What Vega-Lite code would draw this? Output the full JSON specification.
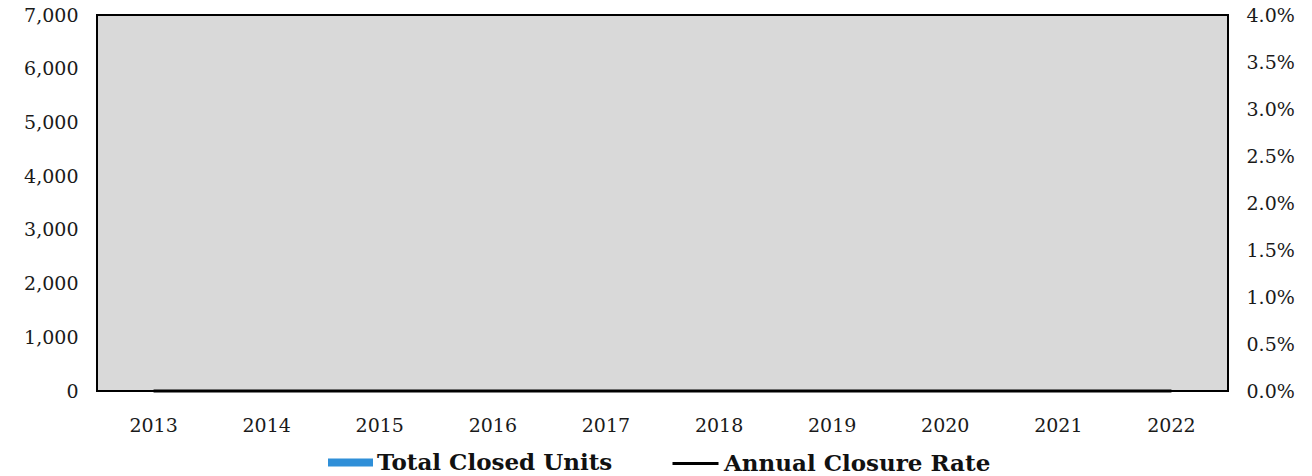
{
  "$schema": "https://vega.github.io/schema/vega-lite/v6.json",
  "width": 1131,
  "height": 376,
  "autosize": "none",
  "padding": {"left": 97, "top": 15, "right": 84, "bottom": 85},
  "background": "white",
  "config": {
    "view": {"fill": "#d9d9d9", "stroke": "#000000", "strokeWidth": 2},
    "font": "DejaVu Serif",
    "axis": {"labelFont": "DejaVu Serif", "labelFontSize": 19, "labelColor": "#1a1a1a", "grid": false, "ticks": false, "domain": false, "title": null}
  },
  "data": {
    "values": [
      {"year": "2013", "units": 0, "rate": 0},
      {"year": "2014", "units": 0, "rate": 0},
      {"year": "2015", "units": 0, "rate": 0},
      {"year": "2016", "units": 0, "rate": 0},
      {"year": "2017", "units": 0, "rate": 0},
      {"year": "2018", "units": 0, "rate": 0},
      {"year": "2019", "units": 0, "rate": 0},
      {"year": "2020", "units": 0, "rate": 0},
      {"year": "2021", "units": 0, "rate": 0},
      {"year": "2022", "units": 0, "rate": 0}
    ]
  },
  "encoding": {
    "x": {"field": "year", "type": "ordinal", "axis": {"labelAngle": 0, "labelPadding": 25}}
  },
  "layer": [
    {
      "mark": {"type": "bar", "width": {"band": 0.6}},
      "encoding": {
        "y": {"field": "units", "type": "quantitative", "scale": {"domain": [0, 7000], "nice": false}, "axis": {"values": [0, 1000, 2000, 3000, 4000, 5000, 6000, 7000], "format": ",.0f", "labelPadding": 19}},
        "fill": {"datum": "Total Closed Units", "type": "nominal", "scale": {"range": ["#2f8fd8"]}, "legend": {"title": null, "orient": "none", "legendX": 231, "legendY": 425, "symbolType": "M-1,-0.18H1V0.18H-1Z", "symbolSize": 2025, "symbolStrokeWidth": 0, "labelFont": "DejaVu Serif", "labelFontSize": 23, "labelFontWeight": "bold", "labelColor": "#111111", "labelOffset": 4, "labelLimit": 0}}
      }
    },
    {
      "mark": {"type": "line", "strokeWidth": 3},
      "encoding": {
        "y": {"field": "rate", "type": "quantitative", "scale": {"domain": [0, 0.04], "nice": false}, "axis": {"orient": "right", "values": [0, 0.005, 0.01, 0.015, 0.02, 0.025, 0.03, 0.035, 0.04], "format": ".1%", "labelPadding": 18}},
        "stroke": {"datum": "Annual Closure Rate", "type": "nominal", "scale": {"range": ["#000000"]}, "legend": {"title": null, "orient": "none", "legendX": 574, "legendY": 424, "symbolType": "stroke", "symbolSize": 2116, "symbolStrokeWidth": 3, "labelFont": "DejaVu Serif", "labelFontSize": 23, "labelFontWeight": "bold", "labelColor": "#111111", "labelOffset": 4, "labelLimit": 0}}
      }
    }
  ],
  "resolve": {"scale": {"y": "independent"}}
}
